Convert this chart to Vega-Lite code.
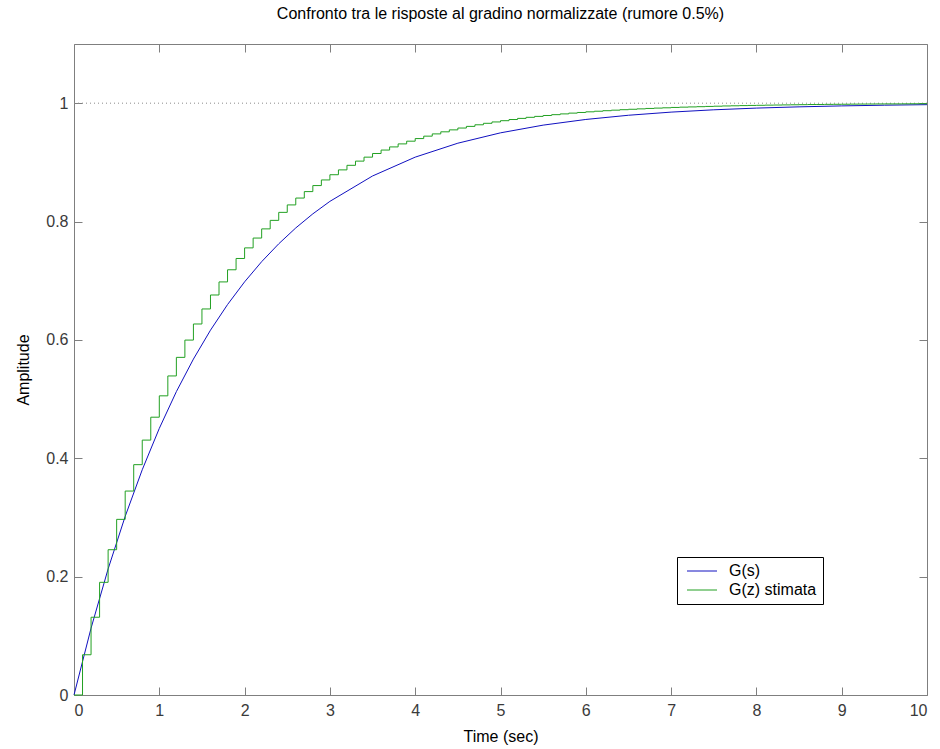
{
  "$schema": "https://vega.github.io/schema/vega-lite/v6.json",
  "width": 853,
  "height": 651,
  "autosize": {"type": "none"},
  "padding": {"left": 74, "top": 44, "right": 13, "bottom": 54},
  "background": "white",
  "config": {
    "view": {"stroke": "#7f7f7f", "strokeWidth": 1},
    "font": "Liberation Sans"
  },
  "title": {
    "text": "Confronto tra le risposte al gradino normalizzate (rumore 0.5%)",
    "fontSize": 16,
    "fontWeight": "normal",
    "color": "black",
    "anchor": "middle",
    "offset": 22
  },
  "datasets": {
    "gs": [
      {"s": "G(s)", "t": 0, "y": 0},
      {"s": "G(s)", "t": 0.2, "y": 0.1129},
      {"s": "G(s)", "t": 0.4, "y": 0.2130},
      {"s": "G(s)", "t": 0.6, "y": 0.3018},
      {"s": "G(s)", "t": 0.8, "y": 0.3806},
      {"s": "G(s)", "t": 1.0, "y": 0.4505},
      {"s": "G(s)", "t": 1.2, "y": 0.5126},
      {"s": "G(s)", "t": 1.4, "y": 0.5676},
      {"s": "G(s)", "t": 1.6, "y": 0.6164},
      {"s": "G(s)", "t": 1.8, "y": 0.6597},
      {"s": "G(s)", "t": 2.0, "y": 0.6981},
      {"s": "G(s)", "t": 2.2, "y": 0.7322},
      {"s": "G(s)", "t": 2.4, "y": 0.7624},
      {"s": "G(s)", "t": 2.6, "y": 0.7892},
      {"s": "G(s)", "t": 2.8, "y": 0.8130},
      {"s": "G(s)", "t": 3.0, "y": 0.8341},
      {"s": "G(s)", "t": 3.5, "y": 0.8770},
      {"s": "G(s)", "t": 4.0, "y": 0.9088},
      {"s": "G(s)", "t": 4.5, "y": 0.9324},
      {"s": "G(s)", "t": 5.0, "y": 0.9499},
      {"s": "G(s)", "t": 5.5, "y": 0.9629},
      {"s": "G(s)", "t": 6.0, "y": 0.9725},
      {"s": "G(s)", "t": 6.5, "y": 0.9796},
      {"s": "G(s)", "t": 7.0, "y": 0.9849},
      {"s": "G(s)", "t": 7.5, "y": 0.9888},
      {"s": "G(s)", "t": 8.0, "y": 0.9917},
      {"s": "G(s)", "t": 8.5, "y": 0.9938},
      {"s": "G(s)", "t": 9.0, "y": 0.9954},
      {"s": "G(s)", "t": 9.5, "y": 0.9966},
      {"s": "G(s)", "t": 10.0, "y": 0.9975}
    ],
    "gz": [
      {"s": "G(z) stimata", "t": 0.0, "y": 0},
      {"s": "G(z) stimata", "t": 0.1, "y": 0.0680},
      {"s": "G(z) stimata", "t": 0.2, "y": 0.1314},
      {"s": "G(z) stimata", "t": 0.3, "y": 0.1904},
      {"s": "G(z) stimata", "t": 0.4, "y": 0.2455},
      {"s": "G(z) stimata", "t": 0.5, "y": 0.2968},
      {"s": "G(z) stimata", "t": 0.6, "y": 0.3446},
      {"s": "G(z) stimata", "t": 0.7, "y": 0.3892},
      {"s": "G(z) stimata", "t": 0.8, "y": 0.4307},
      {"s": "G(z) stimata", "t": 0.9, "y": 0.4694},
      {"s": "G(z) stimata", "t": 1.0, "y": 0.5055},
      {"s": "G(z) stimata", "t": 1.1, "y": 0.5391},
      {"s": "G(z) stimata", "t": 1.2, "y": 0.5705},
      {"s": "G(z) stimata", "t": 1.3, "y": 0.5997},
      {"s": "G(z) stimata", "t": 1.4, "y": 0.6269},
      {"s": "G(z) stimata", "t": 1.5, "y": 0.6523},
      {"s": "G(z) stimata", "t": 1.6, "y": 0.6759},
      {"s": "G(z) stimata", "t": 1.7, "y": 0.6980},
      {"s": "G(z) stimata", "t": 1.8, "y": 0.7185},
      {"s": "G(z) stimata", "t": 1.9, "y": 0.7376},
      {"s": "G(z) stimata", "t": 2.0, "y": 0.7555},
      {"s": "G(z) stimata", "t": 2.1, "y": 0.7721},
      {"s": "G(z) stimata", "t": 2.2, "y": 0.7876},
      {"s": "G(z) stimata", "t": 2.3, "y": 0.8020},
      {"s": "G(z) stimata", "t": 2.4, "y": 0.8155},
      {"s": "G(z) stimata", "t": 2.5, "y": 0.8281},
      {"s": "G(z) stimata", "t": 2.6, "y": 0.8397},
      {"s": "G(z) stimata", "t": 2.7, "y": 0.8506},
      {"s": "G(z) stimata", "t": 2.8, "y": 0.8608},
      {"s": "G(z) stimata", "t": 2.9, "y": 0.8703},
      {"s": "G(z) stimata", "t": 3.0, "y": 0.8791},
      {"s": "G(z) stimata", "t": 3.1, "y": 0.8873},
      {"s": "G(z) stimata", "t": 3.2, "y": 0.8950},
      {"s": "G(z) stimata", "t": 3.3, "y": 0.9021},
      {"s": "G(z) stimata", "t": 3.4, "y": 0.9088},
      {"s": "G(z) stimata", "t": 3.5, "y": 0.9150},
      {"s": "G(z) stimata", "t": 3.6, "y": 0.9208},
      {"s": "G(z) stimata", "t": 3.7, "y": 0.9261},
      {"s": "G(z) stimata", "t": 3.8, "y": 0.9312},
      {"s": "G(z) stimata", "t": 3.9, "y": 0.9358},
      {"s": "G(z) stimata", "t": 4.0, "y": 0.9402},
      {"s": "G(z) stimata", "t": 4.1, "y": 0.9443},
      {"s": "G(z) stimata", "t": 4.2, "y": 0.9481},
      {"s": "G(z) stimata", "t": 4.3, "y": 0.9516},
      {"s": "G(z) stimata", "t": 4.4, "y": 0.9549},
      {"s": "G(z) stimata", "t": 4.5, "y": 0.9580},
      {"s": "G(z) stimata", "t": 4.6, "y": 0.9608},
      {"s": "G(z) stimata", "t": 4.7, "y": 0.9635},
      {"s": "G(z) stimata", "t": 4.8, "y": 0.9660},
      {"s": "G(z) stimata", "t": 4.9, "y": 0.9683},
      {"s": "G(z) stimata", "t": 5.0, "y": 0.9704},
      {"s": "G(z) stimata", "t": 5.1, "y": 0.9724},
      {"s": "G(z) stimata", "t": 5.2, "y": 0.9743},
      {"s": "G(z) stimata", "t": 5.3, "y": 0.9761},
      {"s": "G(z) stimata", "t": 5.4, "y": 0.9777},
      {"s": "G(z) stimata", "t": 5.5, "y": 0.9792},
      {"s": "G(z) stimata", "t": 5.6, "y": 0.9806},
      {"s": "G(z) stimata", "t": 5.7, "y": 0.9819},
      {"s": "G(z) stimata", "t": 5.8, "y": 0.9832},
      {"s": "G(z) stimata", "t": 5.9, "y": 0.9843},
      {"s": "G(z) stimata", "t": 6.0, "y": 0.9854},
      {"s": "G(z) stimata", "t": 6.1, "y": 0.9864},
      {"s": "G(z) stimata", "t": 6.2, "y": 0.9873},
      {"s": "G(z) stimata", "t": 6.3, "y": 0.9882},
      {"s": "G(z) stimata", "t": 6.4, "y": 0.9890},
      {"s": "G(z) stimata", "t": 6.5, "y": 0.9897},
      {"s": "G(z) stimata", "t": 6.6, "y": 0.9904},
      {"s": "G(z) stimata", "t": 6.7, "y": 0.9911},
      {"s": "G(z) stimata", "t": 6.8, "y": 0.9917},
      {"s": "G(z) stimata", "t": 6.9, "y": 0.9922},
      {"s": "G(z) stimata", "t": 7.0, "y": 0.9928},
      {"s": "G(z) stimata", "t": 7.1, "y": 0.9933},
      {"s": "G(z) stimata", "t": 7.2, "y": 0.9937},
      {"s": "G(z) stimata", "t": 7.3, "y": 0.9941},
      {"s": "G(z) stimata", "t": 7.4, "y": 0.9945},
      {"s": "G(z) stimata", "t": 7.5, "y": 0.9949},
      {"s": "G(z) stimata", "t": 7.6, "y": 0.9953},
      {"s": "G(z) stimata", "t": 7.7, "y": 0.9956},
      {"s": "G(z) stimata", "t": 7.8, "y": 0.9959},
      {"s": "G(z) stimata", "t": 7.9, "y": 0.9962},
      {"s": "G(z) stimata", "t": 8.0, "y": 0.9964},
      {"s": "G(z) stimata", "t": 8.1, "y": 0.9967},
      {"s": "G(z) stimata", "t": 8.2, "y": 0.9969},
      {"s": "G(z) stimata", "t": 8.3, "y": 0.9971},
      {"s": "G(z) stimata", "t": 8.4, "y": 0.9973},
      {"s": "G(z) stimata", "t": 8.5, "y": 0.9975},
      {"s": "G(z) stimata", "t": 8.6, "y": 0.9977},
      {"s": "G(z) stimata", "t": 8.7, "y": 0.9978},
      {"s": "G(z) stimata", "t": 8.8, "y": 0.9980},
      {"s": "G(z) stimata", "t": 8.9, "y": 0.9981},
      {"s": "G(z) stimata", "t": 9.0, "y": 0.9982},
      {"s": "G(z) stimata", "t": 9.1, "y": 0.9984},
      {"s": "G(z) stimata", "t": 9.2, "y": 0.9985},
      {"s": "G(z) stimata", "t": 9.3, "y": 0.9986},
      {"s": "G(z) stimata", "t": 9.4, "y": 0.9987},
      {"s": "G(z) stimata", "t": 9.5, "y": 0.9988},
      {"s": "G(z) stimata", "t": 9.6, "y": 0.9988},
      {"s": "G(z) stimata", "t": 9.7, "y": 0.9989},
      {"s": "G(z) stimata", "t": 9.8, "y": 0.9990},
      {"s": "G(z) stimata", "t": 9.9, "y": 0.9991},
      {"s": "G(z) stimata", "t": 10.0, "y": 0.9991}
    ],
    "ref": [{"level": 1}]
  },
  "layer": [
    {
      "data": {"name": "ref"},
      "mark": {"type": "rule", "color": "#8a8a8a", "strokeWidth": 1, "strokeDash": [1, 3]},
      "encoding": {
        "y": {"field": "level", "type": "quantitative", "scale": {"domain": [0, 1.1], "nice": false, "zero": false}, "axis": null}
      }
    },
    {
      "data": {"name": "gs"},
      "mark": {"type": "line", "strokeWidth": 1, "interpolate": "linear"},
      "encoding": {
        "x": {
          "field": "t", "type": "quantitative",
          "scale": {"domain": [0, 10], "nice": false, "zero": false},
          "axis": {
            "orient": "bottom", "values": [0, 1, 2, 3, 4, 5, 6, 7, 8, 9, 10], "format": "d",
            "domain": false, "grid": false, "tickSize": -8, "tickColor": "#7f7f7f",
            "labelPadding": 15, "labelFontSize": 16, "labelColor": "#3a3a3a",
            "title": "Time (sec)", "titleFontSize": 16, "titleFontWeight": "normal", "titleColor": "black", "titlePadding": 10
          }
        },
        "y": {
          "field": "y", "type": "quantitative",
          "scale": {"domain": [0, 1.1], "nice": false, "zero": false},
          "axis": {
            "orient": "left", "values": [0, 0.2, 0.4, 0.6, 0.8, 1], "format": "~g",
            "domain": false, "grid": false, "tickSize": -8, "tickColor": "#7f7f7f",
            "labelPadding": 14, "labelFontSize": 16, "labelColor": "#3a3a3a",
            "title": "Amplitude", "titleFontSize": 16, "titleFontWeight": "normal", "titleColor": "black", "titlePadding": 14
          }
        },
        "color": {
          "field": "s", "type": "nominal",
          "scale": {"domain": ["G(s)", "G(z) stimata"], "range": ["#1010c0", "#22a022"]},
          "legend": {
            "title": null, "orient": "none", "legendX": 603, "legendY": 513,
            "symbolType": "M-3,0H3", "symbolSize": 100, "symbolStrokeWidth": 1, "symbolOffset": 11,
            "labelFontSize": 16, "labelColor": "black", "labelOffset": 19,
            "padding": 6, "rowPadding": 3, "strokeColor": "black", "fillColor": "white"
          }
        }
      }
    },
    {
      "data": {"name": "gz"},
      "mark": {"type": "line", "strokeWidth": 1, "interpolate": "step-after"},
      "encoding": {
        "x": {
          "field": "t", "type": "quantitative",
          "scale": {"domain": [0, 10], "nice": false, "zero": false},
          "axis": {
            "orient": "top", "values": [0, 1, 2, 3, 4, 5, 6, 7, 8, 9, 10],
            "domain": false, "grid": false, "labels": false, "tickSize": -8, "tickColor": "#7f7f7f", "title": null
          }
        },
        "y": {
          "field": "y", "type": "quantitative",
          "scale": {"domain": [0, 1.1], "nice": false, "zero": false},
          "axis": {
            "orient": "right", "values": [0, 0.2, 0.4, 0.6, 0.8, 1],
            "domain": false, "grid": false, "labels": false, "tickSize": -8, "tickColor": "#7f7f7f", "title": null
          }
        },
        "color": {"field": "s", "type": "nominal", "scale": {"domain": ["G(s)", "G(z) stimata"], "range": ["#1010c0", "#22a022"]}}
      }
    }
  ],
  "resolve": {"axis": {"x": "independent", "y": "independent"}}
}
